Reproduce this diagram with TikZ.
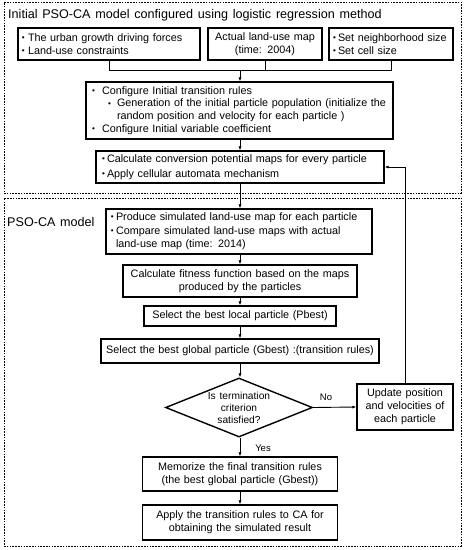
\documentclass[tikz,border=0pt]{standalone}
\usepackage{fontspec}
\usepackage{graphicx}
\setmainfont{Liberation Sans}[WordSpace=1.35]
\usetikzlibrary{shapes.geometric,arrows.meta}
\newcommand\bul{\raisebox{0.15ex}{\scalebox{0.75}{•}}}
\newcommand\bitem[3]{\hspace*{#1}\makebox[#2][l]{\bul}\mbox{#3}}
\begin{document}
\begin{tikzpicture}[x=1pt,y=-1pt,
  box/.style={draw, line width=1.4pt, inner xsep=4pt, inner ysep=0pt,
    font=\fontsize{10.8}{13.3}\selectfont},
  lbox/.style={box, align=left},
  cbox/.style={box, align=center},
  region/.style={draw, line width=0.8pt, dash pattern=on 1.6pt off 1.2pt, inner sep=0pt},
  conn/.style={line width=0.9pt},
  arr/.style={conn, -{Latex[length=4pt,width=3.2pt]}},
  big/.style={font=\fontsize{12.6}{14}\selectfont, inner sep=0pt},
  small/.style={font=\fontsize{9.5}{11}\selectfont, inner sep=0pt},
]
\useasboundingbox (0,0) rectangle (464,550);

% regions
\node[region, minimum width=457, minimum height=191] (r1) at (232.5,97.5) {};
\node[region, minimum width=457, minimum height=348] (r2) at (232.5,372) {};
\node[big, anchor=west] (t1) at (8,15) {Initial PSO-CA model configured using logistic regression method};
\node[big, anchor=west] (t2) at (7,222) {PSO-CA model};

% top boxes
\node[lbox, minimum width=182, minimum height=32, text width=174] (A) at (109,44)
  {\bitem{0pt}{6pt}{The urban growth driving forces}\\\bitem{0pt}{6pt}{Land-use constraints}};
\node[cbox, minimum width=114, minimum height=32, text width=106] (B) at (265,44)
  {Actual land-use map\\(time: 2004)};
\node[lbox, minimum width=124, minimum height=32, text width=116] (C) at (391,44)
  {\bitem{0pt}{5pt}{Set neighborhood size}\\\bitem{0pt}{5pt}{Set cell size}};

\node[lbox, minimum width=307, minimum height=57, text width=299,
  font=\fontsize{10.8}{12.8}\selectfont] (D) at (239.5,110.5)
  {\bitem{2pt}{10pt}{Configure Initial transition rules}\\
   \bitem{18pt}{9pt}{Generation of the initial particle population (initialize the}\\
   \hspace*{27pt}\mbox{random position and velocity for each particle )}\\
   \bitem{2pt}{10pt}{Configure Initial variable coefficient}};

\node[lbox, minimum width=288, minimum height=32, text width=280,
  font=\fontsize{10.8}{15}\selectfont] (E) at (240,167)
  {\bitem{2pt}{5pt}{Calculate conversion potential maps for every particle}\\
   \bitem{2pt}{5pt}{Apply cellular automata mechanism}};

\node[lbox, minimum width=266, minimum height=45, text width=258,
  font=\fontsize{10.8}{13.6}\selectfont] (F) at (239,231.5)
  {\bitem{1pt}{5pt}{Produce simulated land-use map for each particle}\\
   \bitem{1pt}{5pt}{Compare simulated land-use maps with actual}\\
   \hspace*{6pt}\mbox{land-use map (time: 2014)}};

\node[cbox, minimum width=234, minimum height=32, text width=226] (G) at (240,281)
  {Calculate fitness function based on the maps\\produced by the particles};
\node[cbox, minimum width=192, minimum height=20, text width=184] (H) at (240,316)
  {\mbox{Select the best local particle (Pbest)}};
\node[cbox, minimum width=278, minimum height=24, text width=270] (I) at (240,351)
  {\mbox{Select the best global particle (Gbest) :(transition rules)}};

\node[draw, diamond, line width=1.4pt, minimum width=147, minimum height=59, inner sep=0pt] (dm) at (239,407.5) {};
\node[align=center, inner sep=0pt, font=\fontsize{10.2}{12}\selectfont] (dmt) at (dm.center)
  {Is termination\\criterion\\satisfied?};

\node[cbox, minimum width=96, minimum height=46, text width=88,
  font=\fontsize{10.8}{13}\selectfont] (J) at (405,407)
  {Update position\\and velocities of\\each particle};

\node[cbox, minimum width=195, minimum height=34, text width=187] (K) at (240,474)
  {\mbox{Memorize the final transition rules}\\\mbox{(the best global particle (Gbest))}};
\node[cbox, minimum width=195, minimum height=35, text width=187] (L) at (240,522.5)
  {\mbox{Apply the transition rules to CA for}\\obtaining the simulated result};

% connectors
\coordinate (j) at (240,70);
\draw[conn] (A.south) -- (A.south |- j) -- (C.south |- j) -- (C.south);
\draw[conn] (B.south) -- (B.south |- j);
\draw[arr] (j) -- (j |- D.north);
\draw[arr] (j |- D.south) -- (j |- E.north);
\draw[arr] (j |- E.south) -- (j |- F.north);
\draw[arr] (j |- F.south) -- (j |- G.north);
\draw[arr] (G.south) -- (H.north);
\draw[arr] (H.south) -- (I.north);
\draw[arr] (I.south) -- (I.south |- dm.north);
\draw[arr] (I.south |- dm.south) -- (K.north);
\draw[arr] (K.south) -- (L.north);
\draw[arr] (dm.east) -- (J.west);
\draw[arr] (J.north) |- (E.east);

\node[small] (no) at (326,397) {No};
\node[small] (yes) at (263,448) {Yes};
\end{tikzpicture}
\end{document}
